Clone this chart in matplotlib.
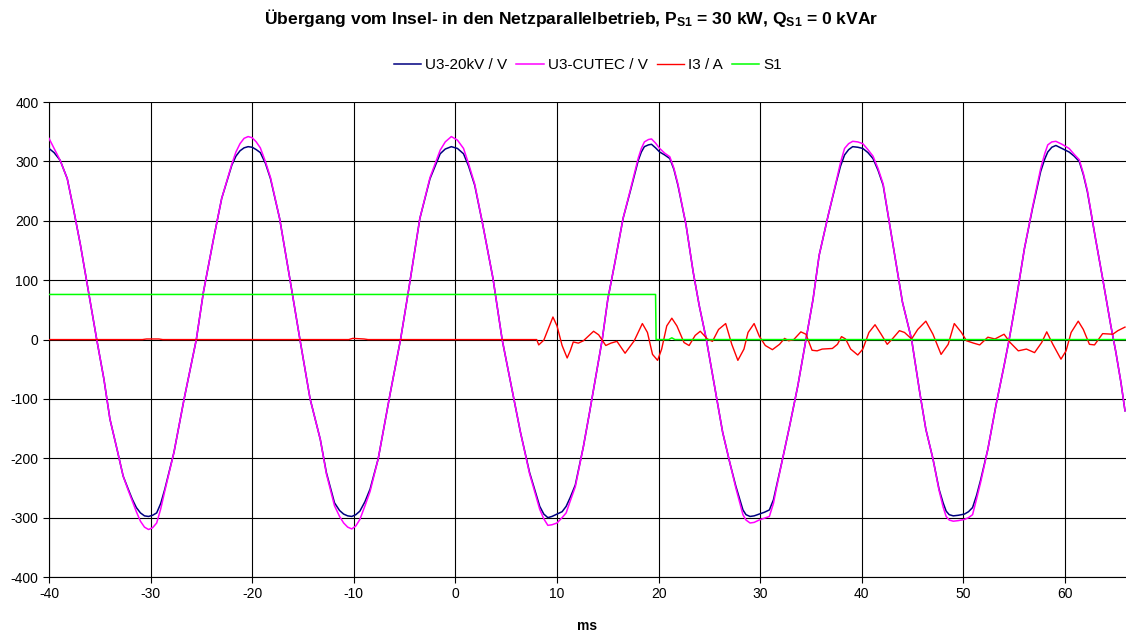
import numpy as np
import matplotlib
matplotlib.use("Agg")
import matplotlib.pyplot as plt

plt.rcParams['font.family'] = ['Liberation Sans', 'DejaVu Sans']
plt.rcParams['mathtext.fontset'] = 'custom'
plt.rcParams['mathtext.bf'] = 'Liberation Sans:bold'
plt.rcParams['mathtext.default'] = 'bf'
plt.rcParams['axes.unicode_minus'] = False

# time axis of the voltage traces (ms) (one line per half wave)
t_u = [-40.0, -39.5, -38.9, -38.2, -37.6, -36.9, -36.1, -35.3,
       -34.6, -34.0, -33.3, -32.7, -32.2, -31.8, -31.4, -31.0, -30.6, -30.2, -29.8, -29.4, -29.0, -28.6, -27.7, -26.7, -25.5,
       -24.8, -23.8, -23.0, -22.0, -21.6, -21.2, -20.8, -20.4, -20.0, -19.6, -19.2, -18.7, -18.2, -17.3, -16.3, -15.3,
       -14.3, -13.3, -12.7, -11.9, -11.4, -11.0, -10.6, -10.2, -9.8, -9.4, -8.9, -8.4, -7.6, -6.4, -5.4,
       -4.6, -3.5, -2.5, -1.5, -1.0, -0.4, 0.2, 0.8, 1.3, 1.9, 2.7, 3.7, 4.6,
       5.5, 6.4, 7.3, 8.3, 8.7, 9.1, 9.5, 10.0, 10.5, 10.9, 11.3, 11.8, 12.6, 13.2, 14.45,
       15.0, 15.7, 16.5, 17.2, 18.0, 18.3, 18.6, 19.0, 19.3, 19.7, 20.1, 20.6, 21.1, 21.5, 21.9, 22.7, 23.4, 24.0, 24.7,
       25.5, 26.3, 27.0, 27.6, 28.0, 28.3, 28.6, 29.0, 29.4, 29.9, 30.4, 30.9, 31.3, 31.6, 32.2, 32.9, 33.7, 34.5,
       35.2, 35.8, 36.7, 37.5, 37.9, 38.3, 38.7, 39.1, 39.6, 40.1, 40.6, 41.1, 41.6, 42.1, 42.7, 43.4, 44.0, 44.9,
       45.7, 46.3, 47.0, 47.6, 48.0, 48.3, 48.6, 49.0, 49.5, 50.1, 50.5, 50.9, 51.3, 51.7, 52.4, 53.2, 54.0, 54.5,
       55.2, 56.0, 56.8, 57.6, 58.0, 58.3, 58.7, 59.1, 59.7, 60.4, 60.9, 61.4, 61.8, 62.2, 63.0, 63.7, 64.5, 65.0, 65.5, 65.9]

u3_20kv = [322, 315, 302, 271, 221, 159, 80, 0,
           -66, -134, -185, -230, -252, -269, -283, -292, -297, -298, -296, -292, -276, -252, -190, -100, 0,
           80, 170, 238, 294, 309, 318, 323, 325, 324, 320, 315, 297, 271, 204, 103, 0,
           -100, -168, -224, -275, -288, -294, -297, -298, -295, -289, -273, -252, -201, -89, 0,
           84, 204, 271, 313, 321, 325, 322, 313, 292, 260, 193, 103, 0,
           -78, -156, -224, -281, -294, -300, -298, -294, -290, -281, -266, -245, -180, -123, 0,
           68, 130, 204, 249, 302, 316, 325, 328, 329, 323, 316, 311, 305, 287, 260, 193, 114, 57, 0,
           -78, -156, -207, -247, -270, -287, -295, -298, -297, -294, -291, -287, -270, -247, -201, -145, -78, 0,
           68, 142, 210, 266, 292, 311, 320, 325, 324, 322, 315, 305, 285, 260, 198, 125, 63, 0,
           -89, -151, -201, -252, -275, -289, -295, -297, -296, -294, -290, -283, -262, -236, -185, -111, -44, 0,
           68, 153, 221, 283, 304, 316, 324, 327, 322, 316, 309, 300, 278, 249, 170, 103, 24, -21, -72, -120]

u3_cutec = [339, 322, 302, 271, 221, 159, 80, 0,
            -66, -134, -185, -230, -254, -272, -290, -306, -316, -320, -317, -309, -285, -255, -190, -100, 0,
            80, 170, 238, 296, 316, 330, 339, 342, 340, 333, 323, 300, 273, 204, 103, 0,
            -100, -168, -226, -280, -298, -309, -316, -319, -314, -303, -280, -256, -201, -89, 0,
            84, 204, 273, 319, 333, 342, 336, 322, 296, 262, 193, 103, 0,
            -78, -156, -226, -286, -302, -313, -312, -309, -300, -292, -272, -248, -180, -123, 0,
            68, 130, 204, 251, 306, 322, 333, 337, 338, 331, 322, 314, 308, 289, 262, 193, 114, 57, 0,
            -78, -156, -207, -250, -276, -295, -304, -309, -308, -304, -301, -298, -276, -250, -201, -145, -78, 0,
            68, 142, 210, 268, 298, 322, 330, 334, 333, 330, 320, 309, 288, 262, 198, 125, 63, 0,
            -89, -151, -201, -254, -282, -298, -304, -306, -305, -303, -300, -295, -268, -240, -185, -111, -44, 0,
            68, 153, 223, 288, 313, 328, 333, 334, 329, 322, 312, 303, 280, 251, 170, 103, 24, -21, -72, -120]

# current I3 (A)
t_i = [-40.0, -30.8, -30.4, -29.2, -28.8, -10.5, -10.1, -9.0, -8.6, 8.0,
       8.2, 8.7, 9.6, 10.0, 10.5, 11.0, 11.3, 11.6, 12.1, 12.6,
       13.6, 14.1, 14.8, 15.3, 15.9, 16.7, 17.6, 18.4, 18.9, 19.4,
       19.9, 20.3, 20.8, 21.3, 21.8, 22.5, 23.0, 23.6, 24.1, 24.8,
       25.3, 25.9, 26.6, 27.2, 27.8, 28.4, 28.8, 29.4, 29.9, 30.5,
       31.2, 31.9, 32.4, 32.8, 33.3, 34.0, 34.5, 35.1, 35.6, 36.1,
       37.1, 37.6, 38.0, 38.4, 38.9, 39.6, 40.1, 40.7, 41.3, 41.9,
       42.5, 43.0, 43.7, 44.2, 44.9, 45.5, 46.3, 47.0, 47.8, 48.5,
       49.1, 49.8, 50.3, 51.0, 51.6, 52.4, 53.1, 54.0, 54.6, 55.4,
       56.2, 57.0, 57.7, 58.2, 58.8, 59.6, 60.1, 60.6, 61.3, 61.8,
       62.4, 62.9, 63.7, 64.7, 65.2, 65.9]

i3 = [0, 0, 1, 1, 0, 0, 2, 1, 0, 0,
      -9, -1, 38, 23, -10, -31, -19, -4, -6, -2,
      14, 8, -10, -6, -3, -23, -2, 27, 12, -25,
      -35, -16, 23, 36, 23, -5, -10, 7, 14, 1,
      -3, 17, 27, -8, -35, -16, 12, 27, 6, -10,
      -17, -8, 2, -2, 0, 13, 9, -18, -19, -16,
      -15, -8, 5, 1, -16, -26, -16, 12, 25, 9,
      -8, 1, 15, 12, 1, 17, 31, 9, -25, -8,
      27, 12, -2, -6, -9, 4, 1, 9, -5, -19,
      -16, -22, -5, 13, -8, -33, -19, 12, 31, 17,
      -8, -9, 10, 9, 15, 21]

# switch signal S1
t_s = [-40.0, 19.7, 19.75, 21.0, 21.3, 21.6, 66.0]
s1 = [76, 76, 0, 0, 3, 0, 0]

fig = plt.figure(figsize=(11.26, 6.34), dpi=100)
ax = fig.add_axes([0.0435, 0.0899, 0.9565, 0.749])

ax.plot(t_u, u3_20kv, color='#000080', lw=1.1, label='U3-20kV / V', zorder=3)
ax.plot(t_u, u3_cutec, color='#FF00FF', lw=1.1, label='U3-CUTEC / V', zorder=4)
ax.plot(t_i, i3, color='#FF0000', lw=1.0, label='I3 / A', zorder=5)
ax.plot(t_s, s1, color='#00FF00', lw=1.1, label='S1', zorder=6)

ax.set_xlim(-40, 66)
ax.set_ylim(-400, 400)
ax.set_xticks(np.arange(-40, 61, 10))
ax.set_yticks(np.arange(-400, 401, 100))
ax.grid(True, color='black', lw=0.8)
ax.set_axisbelow(True)
for side in ['top', 'right']:
    ax.spines[side].set_visible(False)
ax.spines['left'].set_linewidth(0.8)
ax.spines['bottom'].set_linewidth(0.8)
ax.tick_params(labelsize=10, length=4, width=0.8, direction='out')
ax.set_xlabel('ms', fontsize=10, fontweight='bold', labelpad=13)

fig.text(0.507, 0.972, r'Übergang vom Insel- in den Netzparallelbetrieb, P$_{S1}$ = 30 kW, Q$_{S1}$ = 0 kVAr',
         ha='center', va='center', fontsize=12.6, fontweight='bold')
fig.legend(loc='center', bbox_to_anchor=(0.522, 0.897), ncol=4, frameon=False,
           fontsize=11, handlelength=1.8, handletextpad=0.25, columnspacing=0.6)

fig.savefig('out.png', dpi=100)
